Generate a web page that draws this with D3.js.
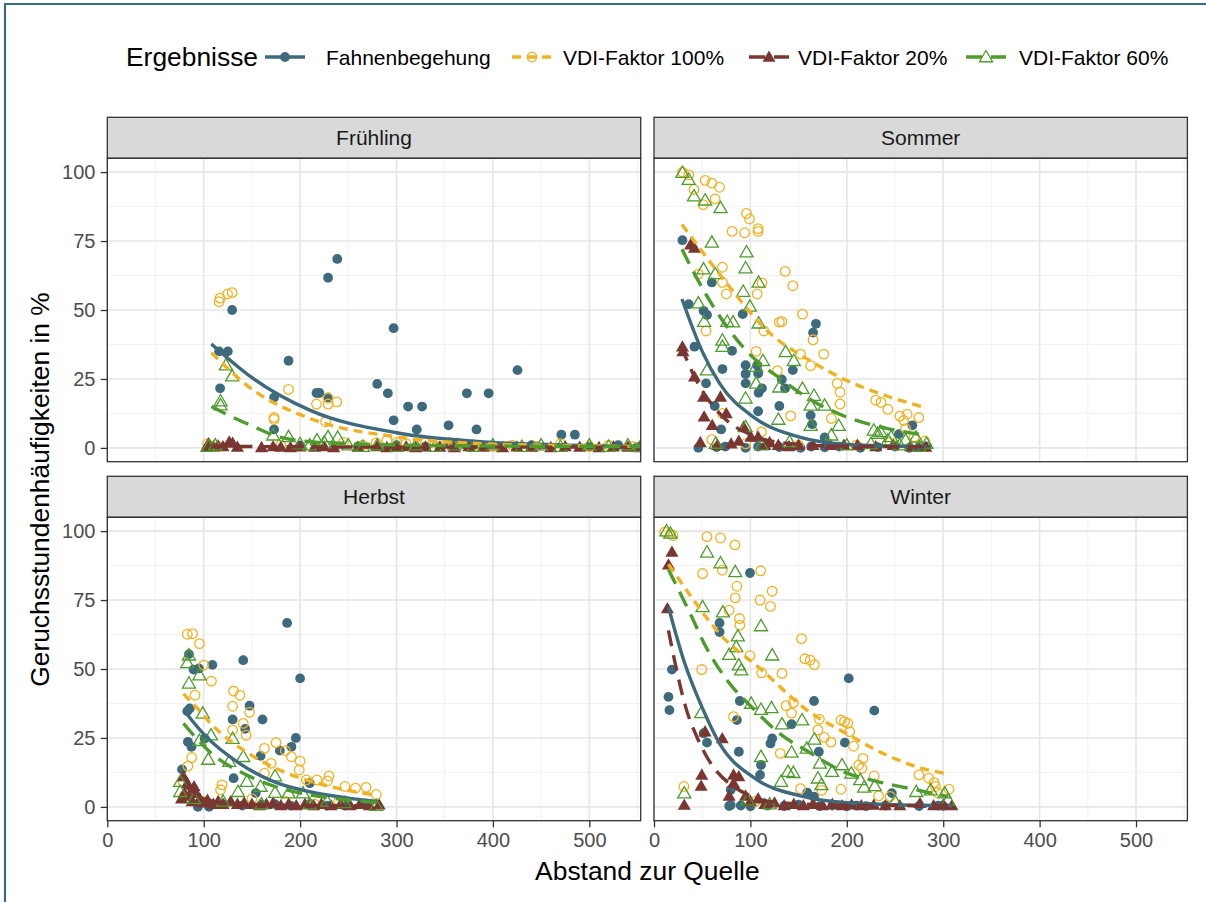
<!DOCTYPE html>
<html>
<head>
<meta charset="utf-8">
<script src="https://cdn.jsdelivr.net/npm/d3@7"></script>
<style>
  body { margin: 0; background: #fff; }
  svg { display: block; }
  text { font-family: "Liberation Sans", Arial, sans-serif; }
</style>
</head>
<body>
<svg id="chart" width="1206" height="902"></svg>
<script>
// ---------- data ----------
const seasons = ["Frühling", "Sommer", "Herbst", "Winter"];
const seriesNames = ["Fahnenbegehung", "VDI-Faktor 100%", "VDI-Faktor 20%", "VDI-Faktor 60%"];
const xTicks = [0, 100, 200, 300, 400, 500];
const yTicks = [0, 25, 50, 75, 100];
const xTitle = "Abstand zur Quelle";
const yTitle = "Geruchsstundenhäufigkeiten in %";
const legendTitle = "Ergebnisse";

// observations: [Abstand, Häufigkeit %]
const fruehlingFahnen = [[129.5,50],[116,35],[125,35],[117,21.6],[188,31.6],[229,61.7],[238.5,68.5],[217,19.9],[220,19.9],[229,18.3],[173,18.3],[173,6.7],[280,23.2],[291,19.8],[297,43.4],[297,10],[312,15],[326.5,15],[321,6.7],[354,8.2],[383,6.7],[373,19.8],[395.6,19.8],[425.5,28.2],[471,4.8],[485,4.8],[300,1],[330,0.5],[355,2],[380,0.8],[410,0.5],[440,1],[500,0.5],[530,1],[550,0.3],[260,0.5],[200,0.8]];
const fruehlingV100 = [[116,53],[117,54.3],[124.7,55.8],[129.5,56.3],[188,21.2],[173,11],[173,10.3],[217,15.9],[229,15.9],[238,16.7],[229,18],[226.5,9.5],[104,1.5],[115,0.5],[180,1],[245,2],[265,1],[279,1.8],[290,2.8],[300,2],[310,1.5],[330,1.8],[345,0.5],[359,1],[363,1.8],[380,1],[400,0.5],[420,1],[445,0.5],[470,1.5],[500,0.5],[520,1],[545,0.5]];
const fruehlingV20 = [[105,1.6],[126.5,2.2],[130,1.8],[103,0.3],[110,0.5],[115,0.8],[120,0.5],[135,0.3],[160,0.2],[172,0.5],[180,0.3],[190,0.2],[200,0.4],[215,0.3],[225,0.5],[235,0.2],[260,0.3],[280,0.5],[290,0.2],[300,0.3],[310,0.5],[320,0.2],[330,0.4],[345,0.3],[360,0.2],[375,0.5],[390,0.3],[410,0.2],[425,0.4],[440,0.3],[460,0.2],[475,0.5],[490,0.3],[510,0.2],[525,0.4],[540,0.3],[552,0.2]];
const fruehlingV60 = [[123,30],[129.5,26],[117.5,17],[117.5,15.5],[172,4.6],[188,4],[217.5,2.8],[229,4],[239,3.8],[105,0.5],[112,1],[200,1.5],[210,1],[225,2],[250,1],[265,0.5],[280,1],[300,0.5],[320,1],[340,0.5],[360,1],[380,0.5],[400,1],[430,0.5],[450,1],[470,0.5],[500,1],[520,0.5],[540,1],[553,0.5]];

const sommerFahnen = [[29.5,75.3],[36,52.1],[51.4,49.7],[55,48.2],[60,60],[92,48.5],[42,36.7],[81,35.2],[71,28.6],[54,23.4],[95,30],[95,26.8],[95,23.4],[107,30],[108,27],[108.5,20],[112,21.6],[132.6,24.8],[136,21.6],[144,28.2],[168,45],[165,41.8],[130,15.2],[108,13.3],[162.5,11.8],[164,8.6],[63,15.2],[69.6,6.7],[46,0],[177,3.8],[268,8.2],[254,5],[65,0.3],[74,0.5],[95,0],[108,0.5],[130,0.3],[152,0],[163,0.5],[177,0.2],[192,0.5],[214,0],[232,0.3],[250,0.5],[265,0],[275,0.3],[283,0.5]];
const sommerV100 = [[29.5,100],[36,99],[53,97],[60,96],[68,94.5],[41.5,93.7],[51,88.2],[63.4,90.3],[96,85],[99,83],[81,78.5],[94,78],[108,79.5],[108,78.5],[136,64],[144,58.8],[46,63],[71,65.5],[71,60],[75,55.8],[112,59.8],[107,55.8],[154,48.5],[130,45.6],[132.6,45.8],[114,42.4],[54,42.4],[165,39.2],[106,35],[176,34],[152,34],[162.5,29.8],[128,28],[190,23.4],[193,20.2],[193,15.9],[230,17.3],[235.5,16.5],[242.6,14],[255,11.5],[262.6,12.2],[274.7,11],[259,10],[141.7,11.6],[184,10.7],[111.5,5.8],[71,12.5],[281,2.5],[261,7],[60,3],[95,1.5],[150,1],[210,1],[245,2],[270,4]];
const sommerV20 = [[38,73.7],[42,72.5],[30,35],[29.5,36.7],[42,25.8],[51.4,18.5],[69,18.5],[52,11.3],[60.4,8.2],[75,12.5],[93,7.6],[100.5,4],[108,4],[48,2],[66,1],[80,1.5],[115,1],[129,1],[150,1],[165,1],[183,1],[197,1],[211,1],[230,0.5],[248,1],[266,0.5],[282,0.3],[88,2.5],[120,2],[140,0.5]];
const sommerV60 = [[29.5,99.8],[36,97.3],[41.5,91.3],[53,89.8],[69,87],[60,74.5],[96,71],[95,65.2],[51.4,64.8],[63.4,63.1],[108.5,60],[92.5,56.7],[99.5,51.3],[46,52.5],[52,45.8],[76,45.8],[82,45.6],[108.5,45.2],[71,39],[71,36.7],[136.6,34.8],[145,31.6],[113,31.6],[106,29.5],[55,28.2],[130,22],[154,21.5],[106,23.4],[95,18],[162.5,15.4],[177,15.4],[166,19],[129,10.3],[162.5,8.1],[191.6,8.1],[184,4.6],[228,6.4],[232,5.2],[235,5.8],[246,4],[242.6,2.8],[261,2.8],[271.8,3.8],[282.6,1.6],[64,1.6],[111.5,1],[140.6,2.2],[95,7.6],[200,1],[225,1.5],[255,1],[275,0.5]];

const herbstFahnen = [[186.5,66.7],[141,53.2],[200,46.6],[109,51.5],[84.7,55.4],[89.5,49.8],[95,50.2],[147.6,36.7],[130,31.7],[161,31.7],[143,28.3],[83,34.7],[85.5,35.7],[83.6,23.6],[87.3,21.8],[101,24.8],[195.6,25],[191,21.8],[179,20.4],[159,18.5],[77.5,13.6],[131,10.4],[154,5],[94,0],[105.5,0],[210,8.6],[174,1],[210,1],[228,0.5],[246,0.5],[268,1],[80,4],[120,1],[140,0.5],[160,0.8],[190,0.5]];
const herbstV100 = [[83,62.6],[88.4,62.8],[95.6,59.2],[100,51.4],[108,45.6],[91,40.5],[131,42],[137.5,40.5],[130,36.5],[147.6,34.3],[141,30.3],[144,26],[163,21.2],[175,23.3],[184.7,20.4],[191,18.2],[200,16.6],[199,13.4],[206.5,9.8],[217.5,9.8],[230,11.2],[228.4,9.4],[246.5,7.4],[257.5,6.8],[268.4,7.1],[279,4.5],[87.6,17.9],[83.6,14.8],[78.5,9.2],[119,8],[117.5,6.2],[170,15.8],[163,12.2],[130,27.9],[150,3],[185,2],[215,1],[240,2],[80,4],[100,2]];
const herbstV20 = [[83,8.6],[90,7.4],[79,11],[77,3],[80,5],[85,4],[88,2],[92,5],[96,3],[100,1.5],[104,2.5],[110,1],[115,2],[120,1],[128,2],[135,1],[142,1.5],[150,1],[158,0.5],[165,1],[172,1.5],[180,0.5],[188,1],[196,0.5],[205,1],[214,0.5],[222,1],[232,0.5],[242,1],[252,0.5],[262,1],[272,0.5],[282,0.8]];
const herbstV60 = [[83,52.2],[84.7,55],[95.6,47.8],[84.7,44.8],[99,33.9],[107.6,26],[95.6,24],[130,24.8],[104.7,17.2],[126.5,16.4],[141,18.2],[144.7,9.2],[135.6,5.5],[174,11.2],[174,5.2],[159,7.4],[188,5],[75.6,5.5],[75.6,9.2],[203,5],[210,1],[228,2],[246,1.5],[279,0.5],[120,2],[160,1],[90,3]];

const winterFahnen = [[99.6,84.8],[68,66.7],[68,63.4],[18.6,49.8],[15,39.9],[16,35.1],[202,46.6],[166,38.4],[228.5,34.9],[89,38.4],[86,31.5],[142.7,30],[122.6,24.8],[120.8,23],[55,23.3],[51.5,26.7],[88,20],[171,20],[198,23.3],[111,15.2],[110,11.6],[79.6,6.2],[79.6,0.7],[159,5.2],[166,3.7],[246.7,5],[78,0.3],[90,0.5],[100,0.2],[118,0.5],[135,0.3],[150,0.8],[172,0.3],[185,0.5],[200,0.2],[210,0.5],[220,0.3],[240,0.5],[275,0.3],[295,0.5],[300,0.3]];
const winterV100 = [[11,99.6],[17,99],[19.7,98.4],[55,98],[69,97.5],[84,95],[110.6,85.6],[50.4,84.6],[70.8,85.8],[86,80],[84.3,75.8],[122.6,78.2],[110,75],[120.8,72.7],[78,71.3],[88.7,68.3],[89,65.9],[153,61],[156.6,53.7],[162,53.2],[166.4,51.6],[99.6,54.8],[49.6,49.8],[111.7,48.6],[132.8,48.4],[137,36.7],[144.5,37.8],[142.7,34],[171.5,31.8],[170,27.9],[194,31.5],[197.6,30.9],[201,30.3],[203,27.3],[176.6,25.2],[183.6,23.5],[207,22],[216.8,17.6],[212.4,15.2],[215.7,14],[228.5,11.2],[274.8,11.6],[285,10.4],[290.5,8.8],[292,7.4],[306,6.4],[294,5.2],[82.5,32.7],[131,19.4],[31,7.4],[194,6.4],[152,6.6],[174,6],[245,3.8],[105,2],[233,4]];
const winterV20 = [[18.6,92.4],[15,87.8],[13.9,71.9],[31.4,0.7],[49.6,11.6],[48.9,7.6],[53,27.3],[70.8,24.8],[82.5,11.6],[88,11],[82.5,8.6],[78,4],[95,4],[100,2],[108,3],[115,1],[125,1.5],[135,0.5],[145,1],[155,0.5],[165,1],[175,0.5],[185,1],[195,0.5],[205,0.8],[215,0.5],[228,0.7],[240,0.5],[255,0.5],[275.9,1.3],[290,0.5],[300,0.8],[309,0.5]];
const winterV60 = [[13,100],[17,99.2],[55,92.3],[69,88.4],[84.3,85.2],[50.4,72.5],[71.5,70.6],[111,65.6],[87,61.9],[85.3,58],[78,55.2],[122.6,55],[88,51.4],[90.5,49.6],[100.7,37.5],[111,35.3],[121.9,35.9],[49,34.1],[132.8,30],[153.6,31.5],[166.4,24.5],[158.4,21.2],[142.7,19.8],[111,18.2],[172,15.8],[184.7,12.8],[195,15.2],[139,12.8],[144.5,12.4],[131.8,9.2],[204.7,12.2],[214,9.8],[229,7.6],[218,7.1],[31.4,5],[272,5.5],[287,6.1],[301.5,5],[305,2.5],[170,10.4],[173.7,8],[97,2.5],[250,2],[120,1]];

// fitted decay trends, sampled along each curve: [Abstand, Häufigkeit %]
const fruehlingFahnenFit = [[108,37.7],[150,25.5],[210,13.7],[300,5.5],[390,2.2],[470,1.1],[553,0.6]];
const fruehlingV100Fit   = [[108,34.5],[150,21.3],[210,10.7],[300,4],[390,1.5],[470,0.9],[553,0.5]];
const fruehlingV20Fit    = [[108,0.6],[200,0.4],[350,0.3],[553,0.3]];
const fruehlingV60Fit    = [[108,15],[125,12],[150,8],[180,3.8],[220,2],[280,1.2],[400,0.7],[553,0.5]];

const sommerFahnenFit = [[29,54],[50,35],[68,23.4],[104,11],[150,4],[200,1.3],[283,0.4]];
const sommerV100Fit   = [[29,81],[68,63],[122,41],[160,32],[199,24.6],[240,19],[283,14.5]];
const sommerV20Fit    = [[28,37],[42,25.8],[68,12.5],[104,4.3],[140,1.6],[200,0.6],[283,0.4]];
const sommerV60Fit    = [[29,72],[55,55],[95,35.5],[133,24.6],[160,18],[199,11.3],[240,7.2],[283,4.5]];

const herbstFahnenFit = [[81,34.3],[101,26],[137,15.8],[174,9],[210,5.5],[250,3.2],[280,2]];
const herbstV100Fit   = [[79,41],[94,35.5],[108,30],[152,18.2],[188,12],[230,7.5],[280,4.2]];
const herbstV20Fit    = [[79,8],[95,4],[108,2.2],[140,1],[200,0.6],[280,0.4]];
const herbstV60Fit    = [[79,30.3],[108,19.4],[141,12.2],[174,7.4],[210,4.4],[250,2.5],[280,1.6]];

const winterFahnenFit = [[15,72.5],[31,53],[50,36],[68,23],[104,10.5],[152,4],[200,1.5],[250,0.8],[309,0.5]];
const winterV100Fit   = [[15,88],[39,76],[68,62.8],[112,49.6],[159,35],[199,26.7],[240,19],[272,14.6],[305,11.9]];
const winterV20Fit    = [[15,64],[22,52],[33,36],[45,25],[55,18],[66,12.5],[80,8],[100,4],[130,1.5],[200,0.6],[309,0.4]];
const winterV60Fit    = [[15,86],[39,69],[53,58.6],[77,45.4],[101,36.3],[130,26.7],[163,19.4],[196,12.8],[232,9.2],[272,6.2],[305,3.7]];

// ---------- lookup tables ----------
const pointsBySeason = {
  "Frühling": [fruehlingFahnen, fruehlingV100, fruehlingV20, fruehlingV60],
  "Sommer":   [sommerFahnen, sommerV100, sommerV20, sommerV60],
  "Herbst":   [herbstFahnen, herbstV100, herbstV20, herbstV60],
  "Winter":   [winterFahnen, winterV100, winterV20, winterV60]
};
const fitsBySeason = {
  "Frühling": [fruehlingFahnenFit, fruehlingV100Fit, fruehlingV20Fit, fruehlingV60Fit],
  "Sommer":   [sommerFahnenFit, sommerV100Fit, sommerV20Fit, sommerV60Fit],
  "Herbst":   [herbstFahnenFit, herbstV100Fit, herbstV20Fit, herbstV60Fit],
  "Winter":   [winterFahnenFit, winterV100Fit, winterV20Fit, winterV60Fit]
};

// ---------- styling ----------
const colors = ["#3e6a7d", "#f1b221", "#7a3630", "#4e9c2d"];
const dashes = [null, "9,6", "16,9", "16,9"];
const shapes = ["filledCircle", "openCircle", "filledTriangle", "openTriangle"];

const svg = d3.select("#chart");
const W = 1206, H = 902;

svg.append("rect").attr("width", W).attr("height", H).attr("fill", "#fff");
// outer frame
svg.append("path")
  .attr("d", `M5,${H} V4 H${W}`)
  .attr("fill", "none").attr("stroke", "#3b6a85").attr("stroke-width", 2.2);

// ---------- layout ----------
const panelW = 533.4, panelH = 303.4, stripH = 41;
const colX = [107.3, 654];
const rowTop = [158.3, 517.3];

const x = d3.scaleLinear().domain([0, 553.3]).range([0, panelW]);
const y = d3.scaleLinear().domain([-5, 105]).range([panelH, 0]);

const xMinor = [50, 150, 250, 350, 450, 550];
const yMinor = [12.5, 37.5, 62.5, 87.5];

const smallFont = 21, bigFont = 26.4;

function drawSymbol(g, shape, color, px, py, scale) {
  const s = scale || 1;
  if (shape === "filledCircle") {
    g.append("circle").attr("cx", px).attr("cy", py).attr("r", 4.9 * s)
      .attr("fill", color);
  } else if (shape === "openCircle") {
    g.append("circle").attr("cx", px).attr("cy", py).attr("r", 4.8 * s)
      .attr("fill", "none").attr("stroke", color).attr("stroke-width", 1.3);
  } else {
    const tri = d3.symbol().type(d3.symbolTriangle).size(74 * s * s)();
    const p = g.append("path").attr("d", tri)
      .attr("transform", `translate(${px},${py + 1})`);
    if (shape === "filledTriangle") p.attr("fill", color);
    else p.attr("fill", "none").attr("stroke", color).attr("stroke-width", 1.3);
  }
}

const line = d3.line()
  .x(d => x(d[0]))
  .y(d => y(d[1]))
  .curve(d3.curveMonotoneX);

seasons.forEach((season, i) => {
  const col = i % 2, row = Math.floor(i / 2);
  const gx = colX[col], gy = rowTop[row];

  // strip
  svg.append("rect")
    .attr("x", gx).attr("y", gy - stripH)
    .attr("width", panelW).attr("height", stripH)
    .attr("fill", "#d9d9d9").attr("stroke", "#333").attr("stroke-width", 1.3);
  svg.append("text")
    .attr("x", gx + panelW / 2).attr("y", gy - stripH / 2 + 7.5)
    .attr("text-anchor", "middle").attr("font-size", smallFont).attr("fill", "#1a1a1a")
    .text(season);

  const g = svg.append("g").attr("transform", `translate(${gx},${gy})`);
  const clipId = "clip" + i;
  g.append("clipPath").attr("id", clipId)
    .append("rect").attr("width", panelW).attr("height", panelH);

  // grid
  const grid = g.append("g");
  xMinor.forEach(v => grid.append("line").attr("x1", x(v)).attr("x2", x(v))
    .attr("y1", 0).attr("y2", panelH).attr("stroke", "#f2f2f2").attr("stroke-width", 1));
  yMinor.forEach(v => grid.append("line").attr("y1", y(v)).attr("y2", y(v))
    .attr("x1", 0).attr("x2", panelW).attr("stroke", "#f2f2f2").attr("stroke-width", 1));
  xTicks.forEach(v => grid.append("line").attr("x1", x(v)).attr("x2", x(v))
    .attr("y1", 0).attr("y2", panelH).attr("stroke", "#e6e6e6").attr("stroke-width", 1.6));
  yTicks.forEach(v => grid.append("line").attr("y1", y(v)).attr("y2", y(v))
    .attr("x1", 0).attr("x2", panelW).attr("stroke", "#e6e6e6").attr("stroke-width", 1.6));

  const content = g.append("g").attr("clip-path", `url(#${clipId})`);

  // points
  pointsBySeason[season].forEach((pts, k) => {
    const pg = content.append("g");
    pts.forEach(d => drawSymbol(pg, shapes[k], colors[k], x(d[0]), y(d[1])));
  });

  // trend lines
  fitsBySeason[season].forEach((fit, k) => {
    const p = content.append("path").datum(fit)
      .attr("d", line)
      .attr("fill", "none")
      .attr("stroke", colors[k])
      .attr("stroke-width", 3.4);
    if (dashes[k]) p.attr("stroke-dasharray", dashes[k]);
  });

  // panel border
  g.append("rect").attr("width", panelW).attr("height", panelH)
    .attr("fill", "none").attr("stroke", "#333").attr("stroke-width", 1.3);

  // axes
  if (col === 0) {
    const ya = g.append("g").call(d3.axisLeft(y).tickValues(yTicks).tickSize(6.6).tickPadding(5.3));
    ya.select(".domain").remove();
    ya.selectAll(".tick line").attr("stroke", "#333").attr("stroke-width", 1.3);
    ya.selectAll(".tick text").attr("font-size", 20).attr("fill", "#4d4d4d")
      .attr("font-family", "Liberation Sans, Arial, sans-serif");
  }
  if (row === 1) {
    const xa = g.append("g").attr("transform", `translate(0,${panelH})`)
      .call(d3.axisBottom(x).tickValues(xTicks).tickSize(6.6).tickPadding(5.3));
    xa.select(".domain").remove();
    xa.selectAll(".tick line").attr("stroke", "#333").attr("stroke-width", 1.3);
    xa.selectAll(".tick text").attr("font-size", 20).attr("fill", "#4d4d4d")
      .attr("font-family", "Liberation Sans, Arial, sans-serif");
  }
});

// axis titles
svg.append("text")
  .attr("x", (colX[0] + colX[1] + panelW) / 2).attr("y", 880)
  .attr("text-anchor", "middle").attr("font-size", bigFont).attr("fill", "#000")
  .text(xTitle);
svg.append("text")
  .attr("transform", `translate(49,${(rowTop[0] + rowTop[1] + panelH) / 2}) rotate(-90)`)
  .attr("text-anchor", "middle").attr("font-size", bigFont).attr("fill", "#000")
  .text(yTitle);

// ---------- legend ----------
const legend = svg.append("g");
legend.append("text").attr("x", 126).attr("y", 66)
  .attr("font-size", bigFont).attr("fill", "#000").text(legendTitle);
const keyCenters = [285, 532, 769, 986];
const labelStarts = [326, 563, 798, 1019];
const keyW = 40, legendY = 57;
seriesNames.forEach((name, k) => {
  const cx = keyCenters[k];
  const l = legend.append("line")
    .attr("x1", cx - keyW / 2).attr("x2", cx + keyW / 2)
    .attr("y1", legendY).attr("y2", legendY)
    .attr("stroke", colors[k]).attr("stroke-width", 3.4);
  if (dashes[k]) l.attr("stroke-dasharray", dashes[k]);
  drawSymbol(legend, shapes[k], colors[k], cx, legendY);
  legend.append("text").attr("x", labelStarts[k]).attr("y", legendY + 7.5)
    .attr("font-size", smallFont).attr("fill", "#000").text(name);
});
</script>
</body>
</html>
